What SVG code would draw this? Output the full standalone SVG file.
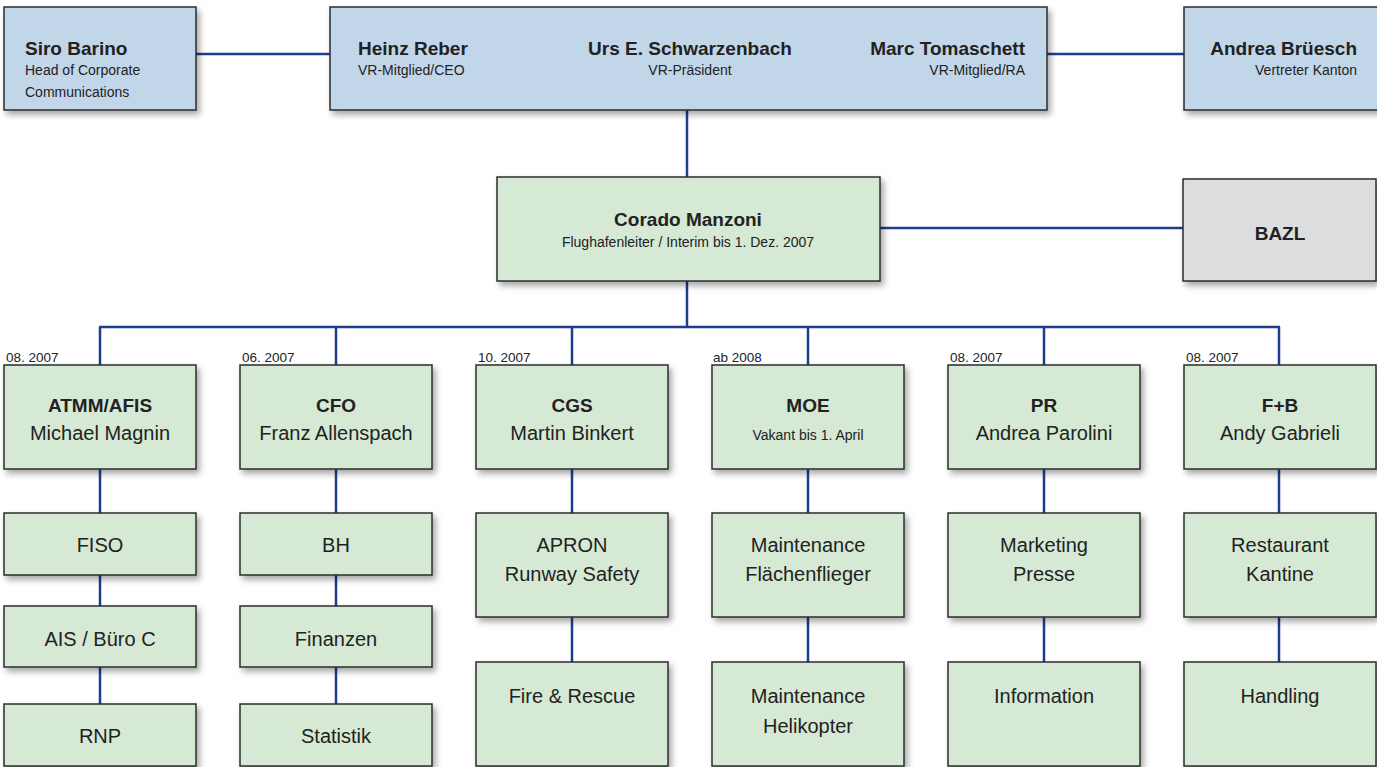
<svg xmlns="http://www.w3.org/2000/svg" width="1377" height="767" viewBox="0 0 1377 767">
<defs>
<filter id="sh" x="-10%" y="-10%" width="130%" height="140%">
<feDropShadow dx="3" dy="4" stdDeviation="3" flood-color="#000" flood-opacity="0.35"/>
</filter>
</defs>
<style>
.box{stroke:#2b2b2b;stroke-width:1.5;filter:url(#sh)}
.blue{fill:#c2d6ea}
.green{fill:#d5e9d4}
.gray{fill:#dcdddf}
text{font-family:"Liberation Sans",Arial,sans-serif;fill:#222}
.b19{font-size:19px;font-weight:bold}
.s14{font-size:14px}
.r20{font-size:20px}
.d{font-size:13.5px}
.m{text-anchor:middle}
.e{text-anchor:end}
.c{stroke:#1d3d8f;stroke-width:2.5;fill:none}
</style>
<rect width="1377" height="767" fill="#fff"/>
<g id="connectors">
<line class="c" x1="196" y1="54" x2="330" y2="54"/>
<line class="c" x1="1047" y1="54" x2="1184" y2="54"/>
<line class="c" x1="687" y1="110" x2="687" y2="177"/>
<line class="c" x1="880" y1="228" x2="1183" y2="228"/>
<line class="c" x1="687" y1="281" x2="687" y2="327"/>
<line class="c" x1="99" y1="327" x2="1280" y2="327"/>
<path class="c" d="M100 327V365M336 327V365M572 327V365M808 327V365M1044 327V365M1279 327V365"/>
<path class="c" d="M100 469V513M100 575V606M100 667V704M336 469V513M336 575V606M336 667V704"/>
<path class="c" d="M572 469V513M572 617V662M808 469V513M808 617V662M1044 469V513M1044 617V662M1279 469V513M1279 617V662"/>
</g>
<g id="siro">
<rect class="box blue" x="4" y="7" width="192" height="103"/>
<text class="b19" x="25" y="55">Siro Barino</text>
<text class="s14" x="25" y="75">Head of Corporate</text>
<text class="s14" x="25" y="97">Communications</text>
</g>
<g id="vr">
<rect class="box blue" x="330" y="7" width="717" height="103"/>
<text class="b19" x="358" y="55">Heinz Reber</text>
<text class="s14" x="358" y="75">VR-Mitglied/CEO</text>
<text class="b19 m" x="690" y="55">Urs E. Schwarzenbach</text>
<text class="s14 m" x="690" y="75">VR-Präsident</text>
<text class="b19 e" x="1025" y="55">Marc Tomaschett</text>
<text class="s14 e" x="1025" y="75">VR-Mitglied/RA</text>
</g>
<g id="andrea">
<rect class="box blue" x="1184" y="7" width="196" height="103"/>
<text class="b19 e" x="1357" y="55">Andrea Brüesch</text>
<text class="s14 e" x="1357" y="75">Vertreter Kanton</text>
</g>
<g id="corado">
<rect class="box green" x="497" y="177" width="383" height="104"/>
<text class="b19 m" x="688" y="226">Corado Manzoni</text>
<text class="s14 m" x="688" y="247">Flughafenleiter / Interim bis 1. Dez. 2007</text>
</g>
<g id="bazl">
<rect class="box gray" x="1183" y="179" width="193" height="102"/>
<text class="b19 m" x="1280" y="240">BAZL</text>
</g>
<g id="atmm">
<text class="d" x="6" y="362">08. 2007</text>
<rect class="box green" x="4" y="365" width="192" height="104"/>
<text class="b19 m" x="100" y="412">ATMM/AFIS</text>
<text class="r20 m" x="100" y="440">Michael Magnin</text>
</g>
<g id="cfo">
<text class="d" x="242" y="362">06. 2007</text>
<rect class="box green" x="240" y="365" width="192" height="104"/>
<text class="b19 m" x="336" y="412">CFO</text>
<text class="r20 m" x="336" y="440">Franz Allenspach</text>
</g>
<g id="cgs">
<text class="d" x="478" y="362">10. 2007</text>
<rect class="box green" x="476" y="365" width="192" height="104"/>
<text class="b19 m" x="572" y="412">CGS</text>
<text class="r20 m" x="572" y="440">Martin Binkert</text>
</g>
<g id="moe">
<text class="d" x="713" y="362">ab 2008</text>
<rect class="box green" x="712" y="365" width="192" height="104"/>
<text class="b19 m" x="808" y="412">MOE</text>
<text class="s14 m" x="808" y="440">Vakant bis 1. April</text>
</g>
<g id="pr">
<text class="d" x="950" y="362">08. 2007</text>
<rect class="box green" x="948" y="365" width="192" height="104"/>
<text class="b19 m" x="1044" y="412">PR</text>
<text class="r20 m" x="1044" y="440">Andrea Parolini</text>
</g>
<g id="fb">
<text class="d" x="1186" y="362">08. 2007</text>
<rect class="box green" x="1184" y="365" width="192" height="104"/>
<text class="b19 m" x="1280" y="412">F+B</text>
<text class="r20 m" x="1280" y="440">Andy Gabrieli</text>
</g>
<g id="fiso">
<rect class="box green" x="4" y="513" width="192" height="62"/>
<text class="r20 m" x="100" y="552">FISO</text>
</g>
<g id="ais">
<rect class="box green" x="4" y="606" width="192" height="61"/>
<text class="r20 m" x="100" y="646">AIS / Büro C</text>
</g>
<g id="rnp">
<rect class="box green" x="4" y="704" width="192" height="62"/>
<text class="r20 m" x="100" y="743">RNP</text>
</g>
<g id="bh">
<rect class="box green" x="240" y="513" width="192" height="62"/>
<text class="r20 m" x="336" y="552">BH</text>
</g>
<g id="finanzen">
<rect class="box green" x="240" y="606" width="192" height="61"/>
<text class="r20 m" x="336" y="646">Finanzen</text>
</g>
<g id="statistik">
<rect class="box green" x="240" y="704" width="192" height="62"/>
<text class="r20 m" x="336" y="743">Statistik</text>
</g>
<g id="apron">
<rect class="box green" x="476" y="513" width="192" height="104"/>
<text class="r20 m" x="572" y="552">APRON</text>
<text class="r20 m" x="572" y="581">Runway Safety</text>
</g>
<g id="fire">
<rect class="box green" x="476" y="662" width="192" height="104"/>
<text class="r20 m" x="572" y="703">Fire &amp; Rescue</text>
</g>
<g id="maintf">
<rect class="box green" x="712" y="513" width="192" height="104"/>
<text class="r20 m" x="808" y="552">Maintenance</text>
<text class="r20 m" x="808" y="581">Flächenflieger</text>
</g>
<g id="mainth">
<rect class="box green" x="712" y="662" width="192" height="104"/>
<text class="r20 m" x="808" y="703">Maintenance</text>
<text class="r20 m" x="808" y="733">Helikopter</text>
</g>
<g id="marketing">
<rect class="box green" x="948" y="513" width="192" height="104"/>
<text class="r20 m" x="1044" y="552">Marketing</text>
<text class="r20 m" x="1044" y="581">Presse</text>
</g>
<g id="information">
<rect class="box green" x="948" y="662" width="192" height="104"/>
<text class="r20 m" x="1044" y="703">Information</text>
</g>
<g id="restaurant">
<rect class="box green" x="1184" y="513" width="192" height="104"/>
<text class="r20 m" x="1280" y="552">Restaurant</text>
<text class="r20 m" x="1280" y="581">Kantine</text>
</g>
<g id="handling">
<rect class="box green" x="1184" y="662" width="192" height="104"/>
<text class="r20 m" x="1280" y="703">Handling</text>
</g>
</svg>
